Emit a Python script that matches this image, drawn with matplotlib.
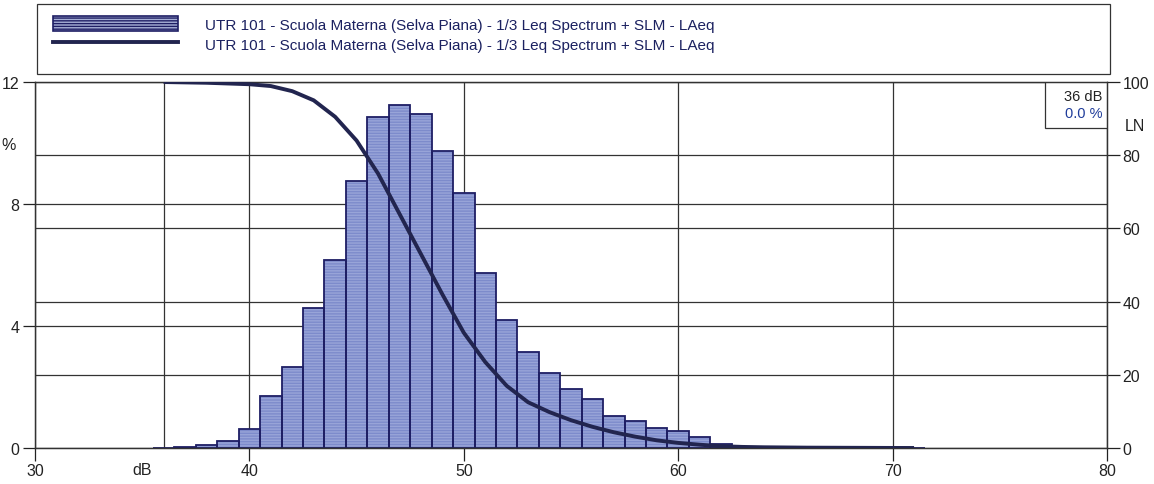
import matplotlib.pyplot as plt
from matplotlib.patches import Rectangle, Patch
from matplotlib.lines import Line2D
from matplotlib.transforms import blended_transform_factory

plt.rcParams['font.family'] = ['Liberation Sans', 'DejaVu Sans']

# distribuzione dei livelli (classi da 1 dB) in % del tempo
livelli = list(range(36, 72))
percentuali = [0.01, 0.03, 0.11, 0.22, 0.63, 1.70, 2.65, 4.60, 6.15, 8.75,
               10.85, 11.25, 10.95, 9.75, 8.35, 5.75, 4.20, 3.15, 2.45, 1.95,
               1.60, 1.05, 0.90, 0.65, 0.57, 0.35, 0.13, 0.04, 0.03, 0.02,
               0.02, 0.01, 0.01, 0.01, 0.01, 0.01]

# livelli percentili LN
ln_livelli = list(range(36, 72))
ln_valori = [100.0, 99.9, 99.8, 99.6, 99.4, 98.9, 97.5, 95.0, 90.5, 84.0,
             75.0, 64.0, 53.0, 42.0, 31.5, 23.5, 17.0, 12.5, 9.8, 7.6,
             5.8, 4.3, 3.1, 2.1, 1.4, 0.9, 0.5, 0.3, 0.2, 0.15,
             0.1, 0.08, 0.06, 0.04, 0.02, 0.01]

x_ticks = [30, 40, 50, 60, 70, 80]
y_ticks = [0, 4, 8, 12]
ln_ticks = [0, 20, 40, 60, 80, 100]
cursore_db = 36
cursore_pct = 0.0

serie = 'UTR 101 - Scuola Materna (Selva Piana) - 1/3 Leq Spectrum + SLM - LAeq'

col_barre = '#7d8bcb'
col_righe = '#98a4d8'
col_bordo = '#1e1e64'
col_curva = '#22254f'
col_griglia = '#333333'
col_testo = '#1b2160'

fig = plt.figure(figsize=(11.54, 4.85), dpi=100)
ax = fig.add_axes([0.0303, 0.0742, 0.929, 0.7546])
ax.set_xlim(30, 80)
ax.set_ylim(0, 12)

# istogramma: riempimento, righe orizzontali e bordo
ax.bar(livelli, percentuali, width=1.0, color=col_barre, linewidth=0, zorder=2)
ax.bar(livelli, percentuali, width=1.0, fill=False, hatch='------',
       edgecolor=col_righe, linewidth=0, zorder=2.1)
ax.bar(livelli, percentuali, width=1.0, fill=False, edgecolor=col_bordo,
       linewidth=1.3, zorder=2.2)

ax.set_xticks(x_ticks)
ax.set_yticks(y_ticks)
ax.grid(True, color=col_griglia, linewidth=0.9)
ax.set_axisbelow(True)
ax.axvline(cursore_db, color=col_griglia, linewidth=0.9, zorder=0.5)
ax.tick_params(axis='both', direction='out', length=9, width=0.9,
               labelsize=11.5, colors='#222222', pad=2)

ax2 = ax.twinx()
ax2.set_ylim(0, 100)
ax2.set_yticks(ln_ticks)
ax2.tick_params(axis='y', direction='out', length=9, width=0.9,
                labelsize=11.5, colors='#222222', pad=2)

# griglia della scala LN dietro le barre
tr = blended_transform_factory(ax.transAxes, ax2.transData)
for v in ln_ticks[1:-1]:
    ax.plot([0, 1], [v, v], transform=tr, color=col_griglia,
            linewidth=0.9, zorder=0.5)

ax2.plot(ln_livelli, ln_valori, color=col_curva, linewidth=2.8,
         solid_capstyle='butt', zorder=3)

for a in (ax, ax2):
    for s in a.spines.values():
        s.set_color(col_griglia)
        s.set_linewidth(0.9)

ax.text(-0.025, 0.83, '%', transform=ax.transAxes, fontsize=11.5,
        color='#222222', ha='center', va='center')
ax.text(0.1, -0.058, 'dB', transform=ax.transAxes, fontsize=11.5,
        color='#222222', ha='center', va='center')
ax.text(1.026, 0.88, 'LN', transform=ax.transAxes, fontsize=11.5,
        color='#222222', ha='center', va='center')

# riquadro del cursore
ax.add_patch(Rectangle((77.1, 10.5), 2.9, 1.5, facecolor='white',
                       edgecolor=col_griglia, linewidth=0.9, zorder=4))
ax.text(79.8, 11.55, f'{cursore_db} dB', fontsize=10.5, color='#222222',
        ha='right', va='center', zorder=5)
ax.text(79.8, 11.0, f'{cursore_pct:.1f} %', fontsize=10.5, color='#1f3c9a',
        ha='right', va='center', zorder=5)

# legenda in alto
fig.patches.append(Rectangle((0.032, 0.845), 0.930, 0.145,
                             transform=fig.transFigure, fill=False,
                             edgecolor=col_griglia, linewidth=0.9))
maniglie = [Patch(facecolor='#a9b2d8', edgecolor=col_bordo, hatch='------',
                  linewidth=1.2),
            Line2D([], [], color=col_curva, linewidth=2.8)]
fig.legend(maniglie, [serie, serie], loc='upper left',
           bbox_to_anchor=(0.035, 0.99), frameon=False, fontsize=11,
           handlelength=8.2, handleheight=1.1, handletextpad=1.75,
           labelspacing=0.3, labelcolor=col_testo, borderpad=0.3)

fig.savefig('out.png', dpi=100)
